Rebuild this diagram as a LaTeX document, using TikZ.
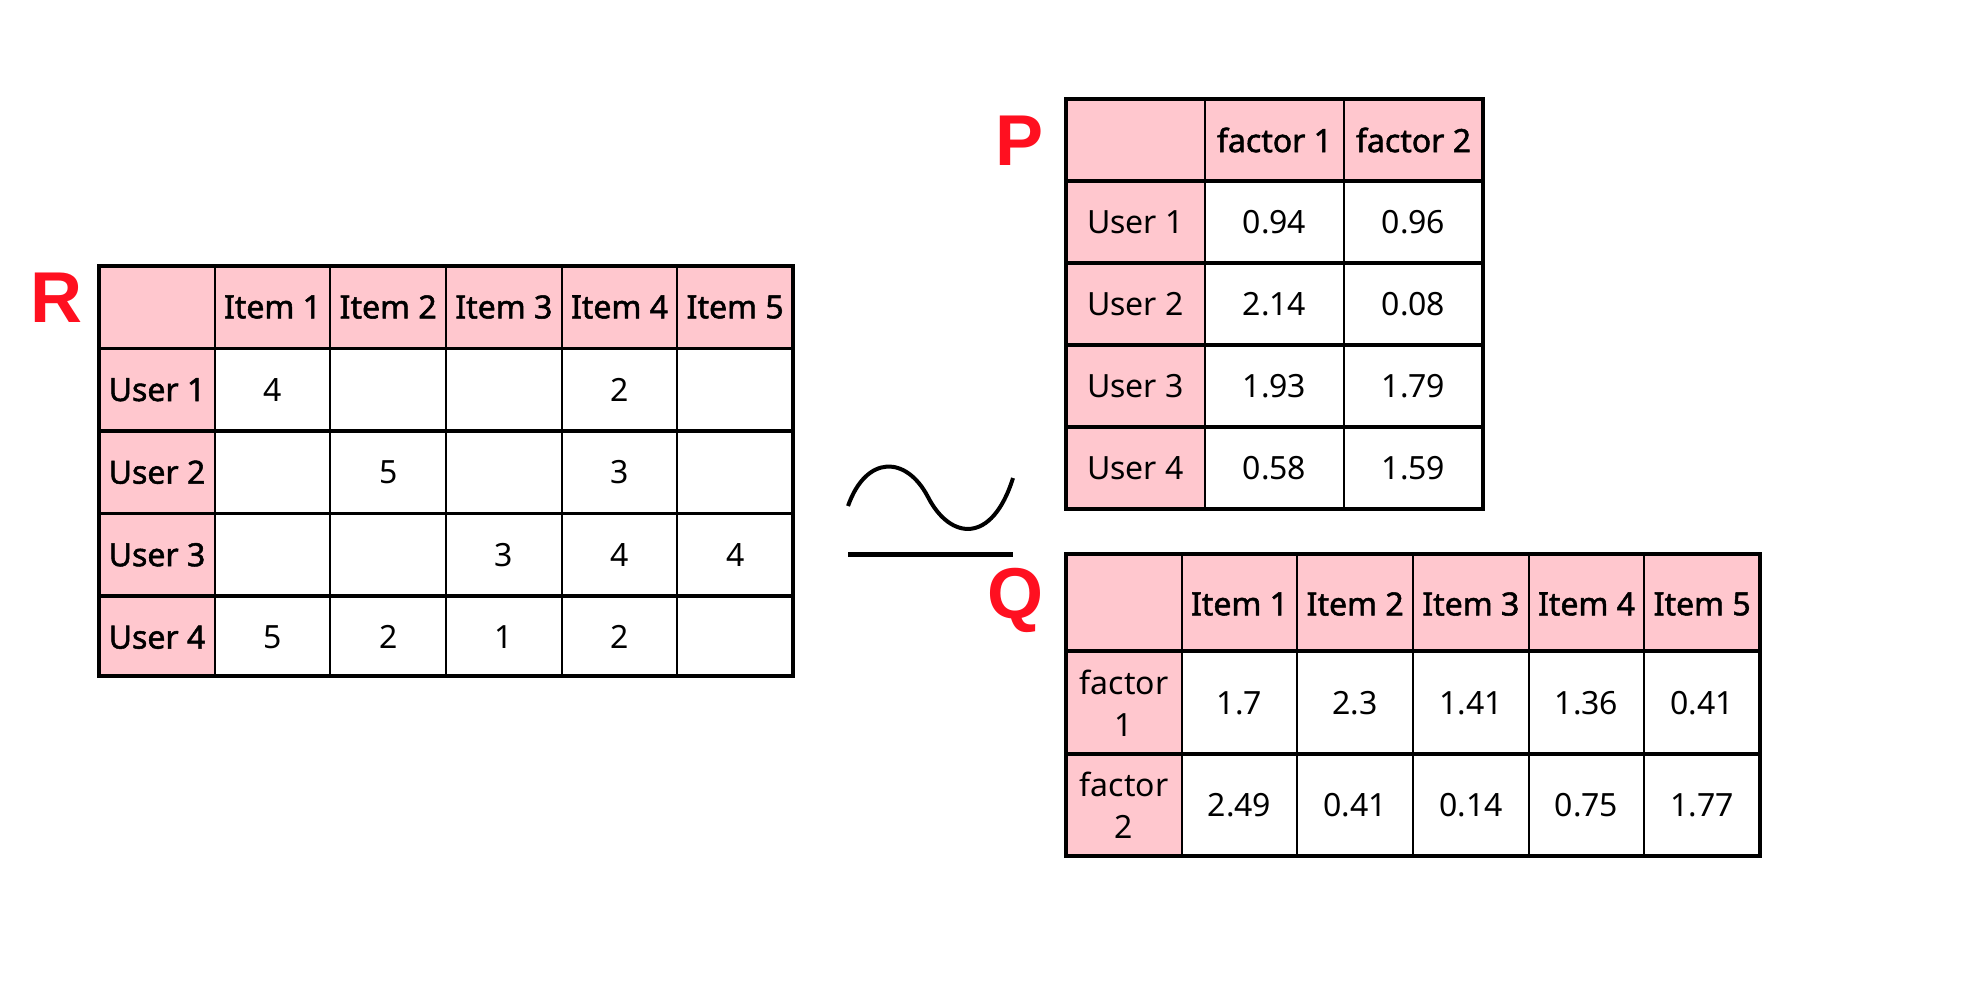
\documentclass[tikz,border=0pt]{standalone}
\usepackage{fontspec}
\setmainfont{Noto Sans}
\newfontfamily\headfont[FakeBold=1.6]{Noto Sans}
\newfontfamily\letterfont{Liberation Sans}
\definecolor{cellpink}{RGB}{255,199,206}
\definecolor{letterred}{RGB}{255,16,32}

\tikzset{
  cell/.style={font=\fontsize{16}{21}\selectfont, inner sep=0pt, align=center},
  headcell/.style={cell, font=\headfont\fontsize{16}{21}\selectfont},
  matlabel/.style={font=\letterfont\bfseries\fontsize{36}{40}\selectfont, text=letterred, inner sep=0pt},
  rowline/.style={line width=1.6pt},
  colline/.style={line width=1pt},
}

\begin{document}
\begin{tikzpicture}[x=0.5pt,y=-0.5pt]
  \useasboundingbox (0,0) rectangle (1964,982);

  % Matrix R
  \fill[cellpink] (99,266) rectangle (793,348);
  \fill[cellpink] (99,266) rectangle (215,676);
  \foreach \i in {1,...,4}
    \draw[rowline] (99,{266+82.5*\i}) -- (793,{266+82.5*\i});
  \foreach \j in {1,...,5}
    \draw[colline] ({99+115.67*\j},266) -- ({99+115.67*\j},676);
  \draw[rowline] (99,266) rectangle (793,676);

  \foreach \j in {1,...,5}
    \node[headcell] (R-0-\j) at ({99+115.67*(\j+0.5)},307) {Item \j};
  \foreach \i in {1,...,4}
    \node[headcell] (R-\i-0) at (157,{266+82.5*(\i+0.5)}) {User \i};
  \foreach \i/\j/\v in {1/1/4,1/4/2,2/2/5,2/4/3,3/3/3,3/4/4,3/5/4,4/1/5,4/2/2,4/3/1,4/4/2}
    \node[cell] (R-\i-\j) at ({99+115.67*(\j+0.5)},{266+82.5*(\i+0.5)}) {\v};

  \node[matlabel] (R) at (56,298) {R};

  % Approximately equal sign
  \draw[line width=2pt] (848,506) .. controls (866,455) and (906,455) .. (928,497)
    .. controls (950,540) and (992,545) .. (1013,478);
  \draw[line width=2.5pt] (848,554) -- (1013,554);

  % Matrix P
  \fill[cellpink] (1066,99) rectangle (1483,181);
  \fill[cellpink] (1066,99) rectangle (1205,509);
  \foreach \i in {1,...,4}
    \draw[rowline] (1066,{99+82*\i}) -- (1483,{99+82*\i});
  \foreach \j in {1,2}
    \draw[colline] ({1066+139*\j},99) -- ({1066+139*\j},509);
  \draw[rowline] (1066,99) rectangle (1483,509);

  \foreach \j in {1,2}
    \node[headcell] (P-0-\j) at ({1066+139*(\j+0.5)},140) {factor \j};
  \foreach \i in {1,...,4}
    \node[cell] (P-\i-0) at (1135.5,{99+82*(\i+0.5)}) {User \i};
  \foreach \i/\j/\v in {1/1/0.94,1/2/0.96,2/1/2.14,2/2/0.08,3/1/1.93,3/2/1.79,4/1/0.58,4/2/1.59}
    \node[cell] (P-\i-\j) at ({1066+139*(\j+0.5)},{99+82*(\i+0.5)}) {\v};

  \node[matlabel] (P) at (1019,141) {P};

  % Matrix Q
  \fill[cellpink] (1066,554) rectangle (1760,651);
  \fill[cellpink] (1066,554) rectangle (1182,856);
  \draw[rowline] (1066,651) -- (1760,651);
  \draw[rowline] (1066,754) -- (1760,754);
  \foreach \j in {1,...,5}
    \draw[colline] ({1066+115.67*\j},554) -- ({1066+115.67*\j},856);
  \draw[rowline] (1066,554) rectangle (1760,856);

  \foreach \j in {1,...,5}
    \node[headcell] (Q-0-\j) at ({1066+115.67*(\j+0.5)},604) {Item \j};
  \node[cell] (Q-1-0) at (1124,703) {factor\\1};
  \node[cell] (Q-2-0) at (1124,805) {factor\\2};
  \foreach \j/\v [count=\k] in {1/1.7,2/2.3,3/1.41,4/1.36,5/0.41}
    \node[cell] (Q-1-\j) at ({1066+115.67*(\j+0.5)},703) {\v};
  \foreach \j/\v in {1/2.49,2/0.41,3/0.14,4/0.75,5/1.77}
    \node[cell] (Q-2-\j) at ({1066+115.67*(\j+0.5)},805) {\v};

  \node[matlabel] (Q) at (1015,600) {Q};
\end{tikzpicture}
\end{document}
